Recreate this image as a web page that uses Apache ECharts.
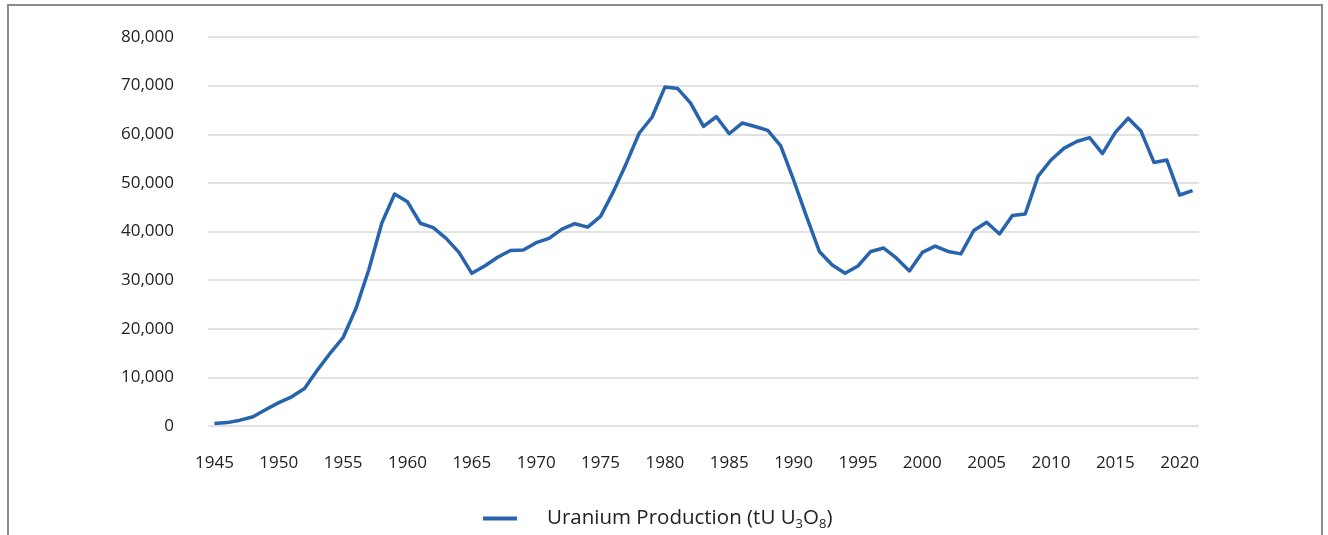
<!DOCTYPE html>
<html>
<head>
<meta charset="utf-8">
<script src="https://cdn.jsdelivr.net/npm/echarts@6/dist/echarts.min.js"></script>
<style>
  html, body { margin: 0; padding: 0; background: #fff; }
  #chart { width: 1328px; height: 535px; }
</style>
</head>
<body>
<div id="chart"></div>
<script>
// years 1945 - 2021
const years = []
for (let y = 1945; y <= 2021; y++) years.push(String(y))

// uranium production, tU3O8
const production = [
  500, 700, 1200, 1900, 3400, 4800, 6000, 7700, 11500, 15000,
  18200, 24200, 32200, 41700, 47700, 46100, 41700, 40800, 38600, 35700,
  31400, 32900, 34700, 36100, 36200, 37700, 38600, 40500, 41600, 40900,
  43100, 48200, 54000, 60200, 63500, 69700, 69400, 66400, 61600, 63600,
  60100, 62300, 61600, 60800, 57600, 50600, 43100, 35900, 33100, 31400,
  32900, 35900, 36600, 34500, 31900, 35700, 37000, 35900, 35400, 40200,
  41900, 39500, 43300, 43600, 51400, 54700, 57100, 58500, 59300, 56000,
  60400, 63300, 60600, 54200, 54700, 47500, 48400
]

const seriesName = 'Uranium Production (tU U3O8)'
const lineColor = '#2863ad'
const font = '"Open Sans", sans-serif'

const chart = echarts.init(document.getElementById('chart'))

chart.setOption({
  backgroundColor: '#fff',
  animation: false,
  graphic: [
    {
      type: 'rect',
      silent: true,
      shape: { x: 8, y: 5, width: 1314, height: 600 },
      style: { fill: 'none', stroke: '#8a8a8a', lineWidth: 2 }
    }
  ],
  grid: {
    left: 208,
    right: 129,
    top: 37,
    bottom: 109
  },
  legend: {
    left: 478,
    top: 503,
    icon: 'rect',
    itemWidth: 34,
    itemHeight: 4,
    data: [seriesName],
    formatter: () => '{n|Uranium Production (tU U}{s|3}{n|O}{s|8}{n|)}',
    textStyle: {
      padding: [0, 0, 0, 25],
      rich: {
        n: { fontFamily: font, fontSize: 20.5, lineHeight: 24, color: '#222' },
        s: { fontFamily: font, fontSize: 13, lineHeight: 14, color: '#222', verticalAlign: 'bottom' }
      }
    }
  },
  xAxis: {
    type: 'category',
    boundaryGap: true,
    data: years,
    axisLine: { show: false },
    axisTick: { show: false },
    axisLabel: {
      interval: 4,
      margin: 29,
      fontFamily: font,
      fontSize: 17,
      color: '#222'
    }
  },
  yAxis: {
    type: 'value',
    min: 0,
    max: 80000,
    interval: 10000,
    axisLine: { show: false },
    axisTick: { show: false },
    axisLabel: {
      margin: 34,
      fontFamily: font,
      fontSize: 17,
      color: '#222',
      formatter: (v) => v.toLocaleString('en-US')
    },
    splitLine: {
      lineStyle: { color: '#d9d9d9', width: 1.5 }
    }
  },
  series: [
    {
      name: seriesName,
      type: 'line',
      data: production,
      showSymbol: false,
      symbol: 'none',
      color: lineColor,
      lineStyle: { color: lineColor, width: 3.5, join: 'round' }
    }
  ]
})
</script>
</body>
</html>
